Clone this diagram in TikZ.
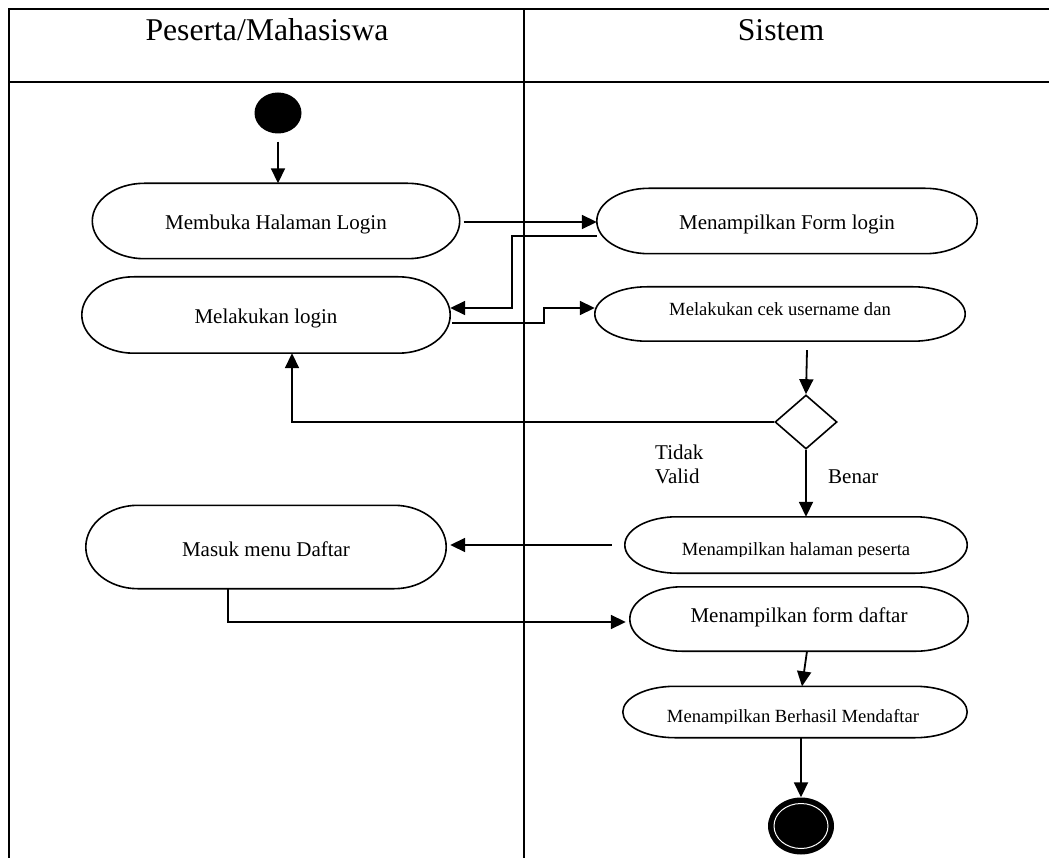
\documentclass[tikz,border=0pt]{standalone}
\usepackage{fontspec}
\setmainfont{Liberation Serif}
\usetikzlibrary{calc,arrows.meta,shapes.geometric}
\begin{document}
\begin{tikzpicture}[x=1pt,y=-1pt,
  arr/.style={line width=1.8pt,-{Triangle[length=15pt,width=14pt]}},
  tbl/.style={line width=2.2pt},
  shapeline/.style={line width=1.6pt},
  term/.style n args={3}{draw=none,inner sep=0pt,minimum width=#1pt,minimum height=#2pt,
    text height=#3pt,text depth=0pt,font=\fontsize{21}{25}\selectfont},
  smallterm/.style n args={3}{term={#1}{#2}{#3},font=\fontsize{18.6}{22}\selectfont},
  lbl/.style={font=\fontsize{21}{23}\selectfont,inner sep=0pt},
  hdr/.style={font=\fontsize{31.7}{36}\selectfont,inner sep=0pt,anchor=base},
  cliptext/.style={font=\fontsize{18.6}{22}\selectfont,inner sep=0pt,anchor=base}]
\useasboundingbox (0,0) rectangle (1049,858);
\fill[white] (0,0) rectangle (1049,858);

% table
\draw[tbl] (1049,9) -- (9,9) -- (9,858);
\draw[tbl] (9,82) -- (1049,82);
\draw[tbl] (524,9) -- (524,858);
\node[hdr] (h1) at (267,41) {Peserta/Mahasiswa};
\node[hdr] (h2) at (781,41) {Sistem};

% nodes
\node[ellipse,fill=black,inner sep=0pt,minimum width=47pt,minimum height=41pt] (start) at (278,113) {};
\node[term={367}{75}{18}] (login1) at (276,221) {Membuka Halaman Login};
\node[term={368}{76}{18}] (login2) at (266,315) {Melakukan login};
\node[term={380}{65}{18}] (form) at (787,221) {Menampilkan Form login};
\node[smallterm={370}{54}{4}] (cek) at (780,314) {Melakukan cek username dan};
\node[diamond,draw,line width=1.6pt,inner sep=0pt,minimum width=62pt,minimum height=54pt] (dia) at (806,422) {};
\node[term={342}{56}{2}] (peserta) at (796,545) {};
\node[term={360}{83}{18}] (masuk) at (266,547) {Masuk menu Daftar};
\node[term={338}{64}{6}] (fdaftar) at (799,619) {Menampilkan form daftar};
\node[term={344}{51}{2}] (berhasil) at (795,712) {};
\node[ellipse,fill=black,inner sep=0pt,minimum width=66pt,minimum height=57pt] (end) at (801,826) {};
\draw[white,line width=1pt] (end.center) ellipse [x radius=27pt,y radius=22.5pt];

% terminator outlines
\foreach \q in {login1,login2,form,cek,peserta,masuk,fdaftar,berhasil}{
  \draw[shapeline] let \p1=(\q.north east), \p2=(\q.south west), \n1={(\y1-\y2)/2} in
    (\x2+52pt,\y1) -- (\x1-52pt,\y1)
    arc[start angle=90,end angle=-90,x radius=52pt,y radius=\n1]
    -- (\x2+52pt,\y2)
    arc[start angle=270,end angle=90,x radius=52pt,y radius=\n1] -- cycle;
}

% clipped texts
\begin{scope}
  \clip (600,520) rectangle (990,556.5);
  \node[cliptext] (pesertat) at (796,555) {Menampilkan halaman peserta};
\end{scope}
\begin{scope}
  \clip (600,690) rectangle (990,723.5);
  \node[cliptext] (berhasilt) at (793,722) {Menampilkan Berhasil Mendaftar};
\end{scope}

% labels
\node[lbl,anchor=base west,align=left] (tidak) at (655,483) {Tidak\\[1pt]Valid};
\node[lbl,anchor=base west] (benar) at (828,483) {Benar};

% connectors
\draw[arr] ($(start.south)+(0,8)$) -- (start.south |- login1.north);
\draw[arr] ($(login1.east)+(4,1)$) -- ($(form.west)+(0,1)$);
\draw[arr] ($(form.west)+(0,15)$) -- ++(-85,0) |- ($(login2.east)+(0,-7)$);
\draw[arr] ($(login2.east)+(2,8)$) -- ++(92,0) |- ($(cek.west)+(0,-6)$);
\draw[arr] ($(cek.south -| dia.north)+(1,9)$) -- (dia.north);
\draw[arr] (dia.west) -| ($(login2.south)+(26,0)$);
\draw[arr] (dia.south) -- (dia.south |- peserta.north);
\draw[arr] ($(peserta.west)+(-13,0)$) -- ($(masuk.east |- peserta.west)+(4,0)$);
\draw[arr] ($(masuk.south)+(-38,0)$) |- ($(fdaftar.west)+(-4,3)$);
\draw[arr] ($(fdaftar.south)+(8,0)$) -- ($(berhasil.north)+(7,0)$);
\draw[arr] (berhasil.south -| end.north) -- (end.north);
\end{tikzpicture}
\end{document}
